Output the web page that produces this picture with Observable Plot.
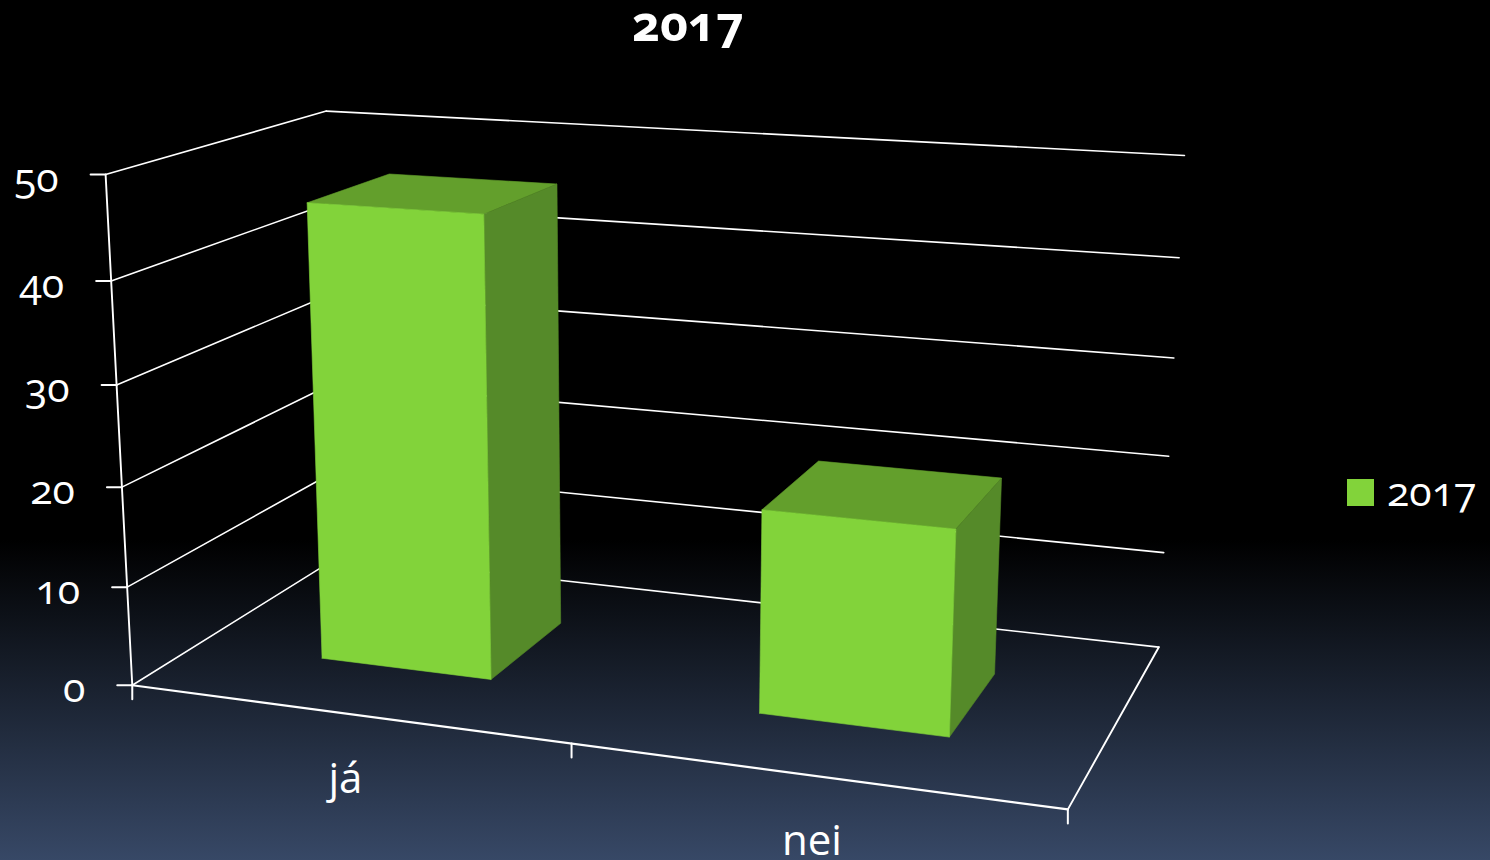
<!DOCTYPE html>
<html><head><meta charset="utf-8">
<script src="https://cdn.jsdelivr.net/npm/d3@7"></script>
<script src="https://cdn.jsdelivr.net/npm/@observablehq/plot@0.6"></script>
<style>
html,body{margin:0;padding:0;width:1490px;height:860px;overflow:hidden;background:#000}
#wrap{position:relative;width:1490px;height:860px;background:linear-gradient(#000 0,#000 540px,#374866 860px);font-family:"Open Sans";font-variant-numeric:oldstyle-nums;font-feature-settings:"onum";color:#fff}
#title{position:absolute;left:0;width:1376px;top:-4px;line-height:52px;text-align:center;font-size:48.5px;font-weight:700}
#legend{position:absolute;left:1347px;top:479px;display:flex;align-items:center;font-size:41px;height:27px;line-height:27px}
#legend i{display:block;width:27px;height:27px;background:#82d33a;margin-right:13px}
#legend span{position:relative;top:-2px}
svg{position:absolute;left:0;top:0;background:transparent!important}
</style></head><body><div id="wrap">
<div id="title"></div><div id="legend"><i></i><span></span></div></div>
<script>
const seriesName = "2017";
const categories = ["já","nei"];
const values = [46,20];
const yTicks = [0,10,20,30,40,50];
const colors = {front:"#82d33a",side:"#558a29",top:"#639f2c"};
const W = 1490, H = 860;
// camera calibration: [u, w, v, screenX, screenY]
const anchors = [
 [0,0,0,132,686],[1,0,0,1067,809],[1,1,0,1158,647],[0,1,0,339,555],
 [0,0,1,105,174],[0,0,.8,110,280],[0,0,.6,116,385],[0,0,.4,122,486],[0,0,.2,127,586],
 [1,1,1,1184,155],[1,1,.8,1179,258],[1,1,.6,1173,357],[1,1,.4,1168,455],[1,1,.2,1164,552],
 [0,1,1,326,111]
];
function solve(A,b){const n=b.length;A=A.map((r,i)=>[...r,b[i]]);
 for(let i=0;i<n;i++){let p=i;for(let k=i+1;k<n;k++)if(Math.abs(A[k][i])>Math.abs(A[p][i]))p=k;[A[i],A[p]]=[A[p],A[i]];
  for(let k=0;k<n;k++)if(k!==i){const f=A[k][i]/A[i][i];for(let j=i;j<=n;j++)A[k][j]-=f*A[i][j];}}
 return A.map((r,i)=>r[n]/r[i]);}
const rows=[],rhs=[];
for(const [u,w,v,x,y] of anchors){
 rows.push([u,w,v,1,0,0,0,0,-x*u,-x*w,-x*v]);rhs.push(x);
 rows.push([0,0,0,0,u,w,v,1,-y*u,-y*w,-y*v]);rhs.push(y);}
const N=Array.from({length:11},(_,i)=>Array.from({length:11},(_,j)=>d3.sum(rows,r=>r[i]*r[j])));
const B=Array.from({length:11},(_,i)=>d3.sum(rows,(r,k)=>r[i]*rhs[k]));
const C=solve(N,B);
function project(u,w,value){const v=value/50;const d=C[8]*u+C[9]*w+C[10]*v+1;
 return [(C[0]*u+C[1]*w+C[2]*v+C[3])/d,(C[4]*u+C[5]*w+C[6]*v+C[7])/d];}
// bar footprint on the floor, as fractions of the chart box
const barU=[[.15,.35],[.65,.85]], barW=[.296,.70];
const segs=[];let id=0;
const seg=(pts,sw)=>{id++;for(const p of pts){const [x,y]=project(...p);segs.push({id,x,y,sw});}};
for(const t of yTicks){ seg([[0,1,t],[1,1,t]],1.6); seg([[0,0,t],[0,1,t]],1.6);
  const [x,y]=project(0,0,t); id++; segs.push({id,x,y,sw:2},{id,x:x-15,y,sw:2}); }
seg([[0,0,0],[0,0,50]],1.9); seg([[0,0,0],[1,0,0]],2.2); seg([[1,0,0],[1,1,0]],1.9);
for(const u of [0,.5,1]){const [x,y]=project(u,0,0);id++;segs.push({id,x,y,sw:2},{id,x,y:y+14,sw:2});}
const faces=[];
values.forEach((val,i)=>{const [u0,u1]=barU[i],[w0,w1]=barW;
 const face=(pts,color)=>{id++;for(const p of pts){const [x,y]=project(...p);faces.push({id,x,y,color});}};
 face([[u0,w0,val],[u1,w0,val],[u1,w1,val],[u0,w1,val],[u0,w0,val]],colors.top);
 face([[u1,w0,0],[u1,w1,0],[u1,w1,val],[u1,w0,val],[u1,w0,0]],colors.side);
 face([[u0,w0,0],[u1,w0,0],[u1,w0,val],[u0,w0,val],[u0,w0,0]],colors.front);
});
const tickLabels=yTicks.map(t=>{const [x,y]=project(0,0,t);return {x:x-47,y:y+4,t:String(t)}});
const catLabels=categories.map((c,i)=>{const [x,y]=project(.25+.5*i,0,0);return {x,y:y+66,c}});
const chart=Plot.plot({width:W,height:H,margin:0,style:{background:"transparent"},
 x:{domain:[0,W],range:[0,W],axis:null},y:{domain:[0,H],range:[0,H],axis:null},
 marks:[
  Plot.line(segs,{x:"x",y:"y",z:"id",stroke:"#fff",strokeWidth:"sw"}),
  Plot.line(faces,{x:"x",y:"y",z:"id",fill:"color",stroke:"color",strokeWidth:0.6}),
  Plot.text(tickLabels,{x:"x",y:"y",text:"t",textAnchor:"end",fill:"#fff",fontSize:41,fontFamily:"Open Sans",fontVariant:"oldstyle-nums"}),
  Plot.text(catLabels,{x:"x",y:"y",text:"c",fill:"#fff",fontSize:42,fontFamily:"Open Sans"})
 ]});
document.getElementById("wrap").appendChild(chart);
document.getElementById("title").textContent=seriesName;
document.querySelector("#legend span").textContent=seriesName;
</script></body></html>
